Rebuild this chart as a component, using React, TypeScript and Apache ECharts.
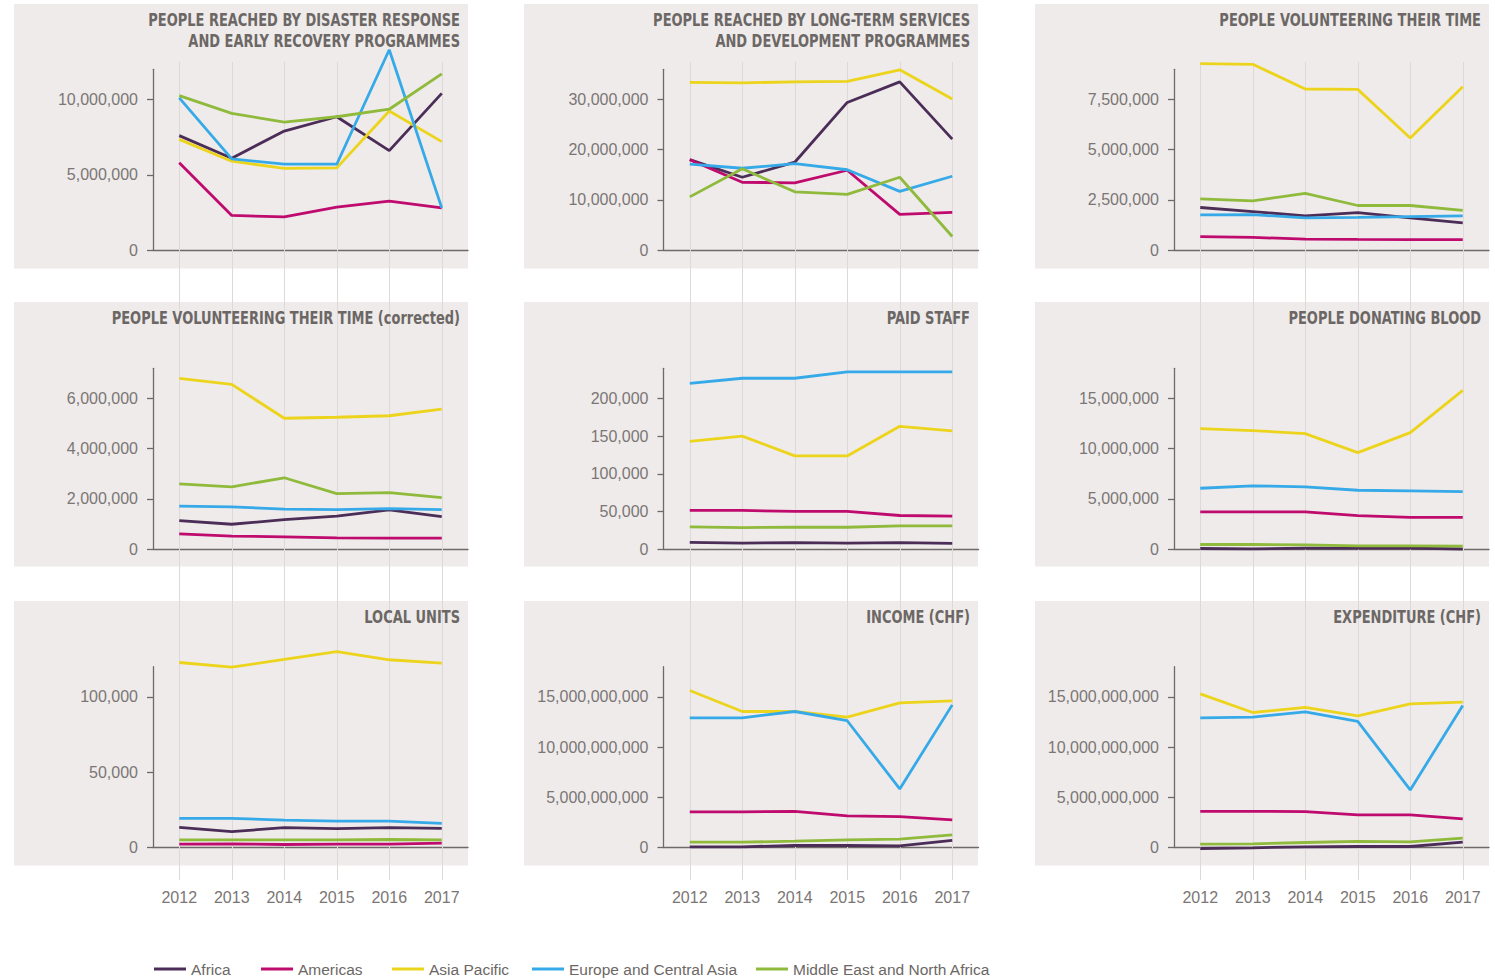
import React, { useEffect, useRef } from 'react';
import * as echarts from 'echarts';

// ---------- DATA ----------
const YEARS = ['2012', '2013', '2014', '2015', '2016', '2017'];
const REGIONS = ['Africa', 'Americas', 'Asia Pacific', 'Europe and Central Asia', 'Middle East and North Africa'];

// order of rows: Africa, Americas, Asia Pacific, Europe and Central Asia, Middle East and North Africa
const disasterResponse = [
  [7.6e6, 6.1e6, 7.9e6, 8.85e6, 6.6e6, 10.4e6],
  [5.8e6, 2.3e6, 2.2e6, 2.85e6, 3.25e6, 2.8e6],
  [7.35e6, 5.9e6, 5.42e6, 5.46e6, 9.23e6, 7.2e6],
  [10.1e6, 6.05e6, 5.7e6, 5.7e6, 13.3e6, 2.8e6],
  [10.25e6, 9.07e6, 8.5e6, 8.85e6, 9.35e6, 11.7e6],
];
const longTermServices = [
  [18.0e6, 14.5e6, 17.5e6, 29.4e6, 33.5e6, 22.1e6],
  [18.0e6, 13.5e6, 13.4e6, 15.9e6, 7.1e6, 7.5e6],
  [33.4e6, 33.3e6, 33.5e6, 33.6e6, 35.9e6, 30.1e6],
  [17.1e6, 16.3e6, 17.2e6, 16.0e6, 11.7e6, 14.7e6],
  [10.6e6, 16.2e6, 11.6e6, 11.1e6, 14.5e6, 2.7e6],
];
const volunteering = [
  [2.12e6, 1.92e6, 1.7e6, 1.87e6, 1.6e6, 1.35e6],
  [0.67e6, 0.63e6, 0.55e6, 0.53e6, 0.52e6, 0.52e6],
  [9.28e6, 9.25e6, 8.02e6, 8.0e6, 5.58e6, 8.13e6],
  [1.75e6, 1.77e6, 1.6e6, 1.63e6, 1.67e6, 1.7e6],
  [2.55e6, 2.45e6, 2.82e6, 2.22e6, 2.22e6, 1.98e6],
];
const volunteeringCorrected = [
  [1.13e6, 0.99e6, 1.17e6, 1.31e6, 1.56e6, 1.29e6],
  [0.61e6, 0.52e6, 0.49e6, 0.45e6, 0.44e6, 0.44e6],
  [6.8e6, 6.56e6, 5.21e6, 5.25e6, 5.31e6, 5.57e6],
  [1.71e6, 1.68e6, 1.59e6, 1.57e6, 1.61e6, 1.57e6],
  [2.6e6, 2.48e6, 2.84e6, 2.21e6, 2.25e6, 2.05e6],
];
const paidStaff = [
  [8900, 8000, 8500, 8000, 8500, 7600],
  [51300, 51300, 50000, 50000, 44600, 43800],
  [142900, 150000, 123700, 123700, 163000, 157000],
  [220000, 226800, 226800, 235300, 235300, 235300],
  [29500, 28600, 29000, 29000, 30800, 30800],
];
const donatingBlood = [
  [60000, 20000, 100000, 100000, 100000, 10000],
  [3.7e6, 3.7e6, 3.7e6, 3.34e6, 3.15e6, 3.15e6],
  [12.0e6, 11.8e6, 11.5e6, 9.6e6, 11.6e6, 15.8e6],
  [6.06e6, 6.3e6, 6.2e6, 5.86e6, 5.8e6, 5.73e6],
  [0.46e6, 0.46e6, 0.43e6, 0.33e6, 0.33e6, 0.3e6],
];
const localUnits = [
  [13400, 10500, 13200, 12500, 13200, 12700],
  [2200, 2400, 2000, 2200, 2200, 2900],
  [122800, 119700, 124800, 130000, 124600, 122400],
  [19300, 19300, 18200, 17500, 17500, 16000],
  [5000, 5000, 5000, 5000, 5300, 5000],
];
const incomeChf = [
  [0.07e9, 0.07e9, 0.2e9, 0.2e9, 0.17e9, 0.7e9],
  [3.54e9, 3.54e9, 3.6e9, 3.15e9, 3.08e9, 2.75e9],
  [15.63e9, 13.54e9, 13.54e9, 12.98e9, 14.4e9, 14.6e9],
  [12.91e9, 12.91e9, 13.54e9, 12.62e9, 5.83e9, 14.2e9],
  [0.53e9, 0.53e9, 0.63e9, 0.76e9, 0.83e9, 1.26e9],
];
const expenditureChf = [
  [-0.1e9, -0.03e9, 0.07e9, 0.1e9, 0.1e9, 0.53e9],
  [3.6e9, 3.6e9, 3.58e9, 3.25e9, 3.25e9, 2.85e9],
  [15.3e9, 13.44e9, 13.94e9, 13.11e9, 14.3e9, 14.47e9],
  [12.91e9, 12.98e9, 13.5e9, 12.55e9, 5.73e9, 14.14e9],
  [0.33e9, 0.36e9, 0.5e9, 0.6e9, 0.56e9, 0.93e9],
];

// tick labels per panel
const ticksDisaster = [0, 5e6, 10e6];
const ticksLongTerm = [0, 10e6, 20e6, 30e6];
const ticksVolunteering = [0, 2.5e6, 5e6, 7.5e6];
const ticksVolCorrected = [0, 2e6, 4e6, 6e6];
const ticksPaidStaff = [0, 50000, 100000, 150000, 200000];
const ticksBlood = [0, 5e6, 10e6, 15e6];
const ticksLocalUnits = [0, 50000, 100000];
const ticksIncome = [0, 5e9, 10e9, 15e9];
const ticksExpenditure = [0, 5e9, 10e9, 15e9];

const PANELS = [
  { title: 'PEOPLE REACHED BY DISASTER RESPONSE\nAND EARLY RECOVERY PROGRAMMES', data: disasterResponse, ticks: ticksDisaster, max: 12e6 },
  { title: 'PEOPLE REACHED BY LONG-TERM SERVICES\nAND DEVELOPMENT PROGRAMMES', data: longTermServices, ticks: ticksLongTerm, max: 36e6 },
  { title: 'PEOPLE VOLUNTEERING THEIR TIME', data: volunteering, ticks: ticksVolunteering, max: 9e6 },
  { title: 'PEOPLE VOLUNTEERING THEIR TIME (corrected)', data: volunteeringCorrected, ticks: ticksVolCorrected, max: 7.2e6 },
  { title: 'PAID STAFF', data: paidStaff, ticks: ticksPaidStaff, max: 240000 },
  { title: 'PEOPLE DONATING BLOOD', data: donatingBlood, ticks: ticksBlood, max: 18e6 },
  { title: 'LOCAL UNITS', data: localUnits, ticks: ticksLocalUnits, max: 120000 },
  { title: 'INCOME (CHF)', data: incomeChf, ticks: ticksIncome, max: 18e9 },
  { title: 'EXPENDITURE (CHF)', data: expenditureChf, ticks: ticksExpenditure, max: 18e9 },
];

// ---------- STYLE / LAYOUT ----------
const COLORS = ['#4b2d58', '#bf0a6e', '#edd41c', '#36aae8', '#8fba3b'];
const AXIS_COLOR = '#6f6a68';
const LABEL_COLOR = '#7b7675';
const TITLE_COLOR = '#6c6765';
const PANEL_BG = '#eeebea';
const GRIDLINE = '#dcd9d8';
const BASE_FONT = '"Liberation Sans", Arial, Helvetica, sans-serif';
const TITLE_FONT = '"Liberation Sans Narrow", "DejaVu Sans Condensed", "Roboto Condensed", "Liberation Sans", sans-serif';

const COL_AXIS_X = [153, 663.5, 1174];
const PLOT_W = 315;
const ROW_AXIS_TOP = [69.3, 368.3, 666.7];
const PLOT_H = 180.8;
const PANEL_X = [14, 524, 1035];
const PANEL_W = 454;
const PANEL_Y = [4, 302, 601];
const PANEL_H = 264.5;
const LEGEND_LEFT = [154, 261, 392, 532, 756];

const fmt = (v: number) => Math.round(v).toString().replace(/\B(?=(\d{3})+(?!\d))/g, ',');

export default function App() {
  const ref = useRef<HTMLDivElement>(null);

  useEffect(() => {
    if (!ref.current) return;
    const chart = echarts.init(ref.current, undefined, { renderer: 'svg' });

    const grids: any[] = [];
    const xAxes: any[] = [];
    const yAxes: any[] = [];
    const series: any[] = [];
    const graphics: any[] = [];

    PANELS.forEach((p, i) => {
      const r = Math.floor(i / 3);
      const c = i % 3;
      grids.push({ left: COL_AXIS_X[c], top: ROW_AXIS_TOP[r], width: PLOT_W, height: PLOT_H });
      xAxes.push({
        type: 'category',
        gridIndex: i,
        data: YEARS,
        boundaryGap: true,
        axisLine: { show: true, lineStyle: { color: AXIS_COLOR, width: 1.3 } },
        axisTick: { show: false },
        axisLabel: { show: false },
        splitLine: { show: false },
      });
      yAxes.push({
        type: 'value',
        gridIndex: i,
        min: 0,
        max: p.max,
        axisLine: { show: true, lineStyle: { color: AXIS_COLOR, width: 1.3 } },
        axisTick: { show: true, length: 6, lineStyle: { color: AXIS_COLOR, width: 1.3 }, customValues: p.ticks },
        axisLabel: {
          customValues: p.ticks,
          formatter: (v: number) => fmt(v),
          color: LABEL_COLOR,
          fontSize: 16,
          fontFamily: BASE_FONT,
          margin: 15,
        },
        splitLine: { show: false },
      });
      p.data.forEach((vals, k) => {
        series.push({
          type: 'line',
          name: REGIONS[k],
          xAxisIndex: i,
          yAxisIndex: i,
          data: vals,
          symbol: 'none',
          showSymbol: false,
          clip: false,
          silent: true,
          lineStyle: { width: 2.8, color: COLORS[k] },
          itemStyle: { color: COLORS[k] },
          emphasis: { disabled: true },
          z: 3,
        });
      });
      graphics.push({
        type: 'rect',
        z: -10,
        silent: true,
        shape: { x: PANEL_X[c], y: PANEL_Y[r], width: PANEL_W, height: PANEL_H },
        style: { fill: PANEL_BG },
      });
      graphics.push({
        type: 'text',
        z: 10,
        silent: true,
        x: PANEL_X[c] + PANEL_W - 8,
        y: PANEL_Y[r] + 5.5,
        scaleX: 0.85,
        scaleY: 1,
        style: {
          text: p.title,
          align: 'right',
          verticalAlign: 'top',
          fill: TITLE_COLOR,
          font: `bold 17px ${TITLE_FONT}`,
          lineHeight: 21,
        },
      });
    });

    // column-wide vertical year gridlines with year labels at the bottom
    for (let c = 0; c < 3; c++) {
      const gi = grids.length;
      grids.push({ left: COL_AXIS_X[c] + PLOT_W / 12, top: 62, width: (PLOT_W * 5) / 6, height: 818 });
      xAxes.push({
        type: 'category',
        gridIndex: gi,
        data: YEARS,
        boundaryGap: false,
        position: 'bottom',
        axisLine: { show: false },
        axisTick: { show: false },
        axisLabel: { show: true, interval: 0, color: LABEL_COLOR, fontSize: 16, fontFamily: BASE_FONT, margin: 9 },
        splitLine: { show: true, interval: 0, lineStyle: { color: GRIDLINE, width: 1 } },
        z: 1,
      });
      yAxes.push({ type: 'value', gridIndex: gi, show: false, min: 0, max: 1 });
    }

    const legends = REGIONS.map((name, k) => ({
      data: [name],
      left: LEGEND_LEFT[k],
      top: 961,
      padding: 0,
      icon: 'rect',
      itemWidth: 32,
      itemHeight: 3,
      itemGap: 0,
      selectedMode: false,
      textStyle: { fontSize: 15.5, color: TITLE_COLOR, fontFamily: BASE_FONT },
    }));

    chart.setOption({
      animation: false,
      backgroundColor: '#ffffff',
      grid: grids,
      xAxis: xAxes,
      yAxis: yAxes,
      series,
      graphic: { elements: graphics },
      legend: legends,
    });

    return () => chart.dispose();
  }, []);

  return <div ref={ref} style={{ position: 'absolute', left: 0, top: 0, width: 1495, height: 980 }} />;
}
